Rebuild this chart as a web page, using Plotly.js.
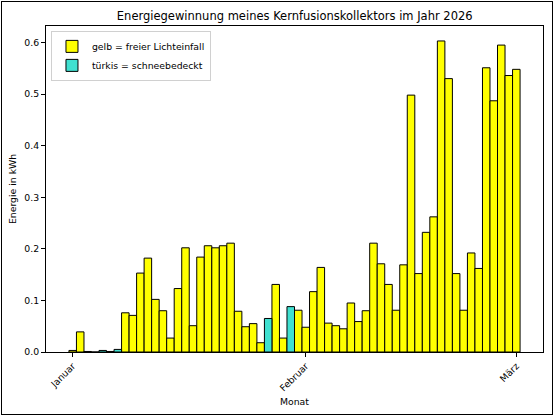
<!DOCTYPE html>
<html>
<head>
<meta charset="utf-8">
<script src="https://cdn.plot.ly/plotly-3.0.1.min.js"></script>
<style>
  html, body { margin: 0; padding: 0; background: #fff; }
  #wrap { position: relative; width: 554px; height: 416px; }
  #chart { width: 554px; height: 416px; }
  #frame { position: absolute; left: 1px; top: 1px; right: 1px; bottom: 1px;
           border: 1px solid #000; pointer-events: none; }
</style>
</head>
<body>
<div id="wrap">
  <div id="chart"></div>
  <div id="frame"></div>
</div>
<script>
// daily energy, 1 Jan .. 1 Mar 2026
const startDate = '2026-01-01';
const energy = [
  0.003, 0.039, 0.001, 0.000, 0.003, 0.001, 0.005, 0.076, 0.071, 0.153,
  0.182, 0.102, 0.080, 0.027, 0.123, 0.202, 0.051, 0.184, 0.206, 0.202,
  0.206, 0.211, 0.079, 0.049, 0.055, 0.018, 0.065, 0.131, 0.027, 0.088,
  0.081, 0.048, 0.117, 0.164, 0.056, 0.051, 0.045, 0.095, 0.059, 0.080,
  0.211, 0.171, 0.131, 0.081, 0.169, 0.498, 0.152, 0.232, 0.262, 0.603,
  0.530, 0.152, 0.081, 0.192, 0.162, 0.551, 0.487, 0.595, 0.536, 0.548
];
// days (index into energy) where the collector was covered in snow
const snowDays = [4, 6, 26, 29];

const tickDates  = ['2026-01-01', '2026-02-01', '2026-03-01'];
const tickLabels = ['Januar', 'Februar', 'März'];

// ── Helpers ──────────────────────────────────────────────────────────────────
function dayStr(i) {
  const d = new Date(startDate + 'T00:00:00Z');
  d.setUTCDate(d.getUTCDate() + i);
  return d.toISOString().slice(0, 10);
}
const dates = energy.map((_, i) => dayStr(i));
const DAY = 86400000;

const sunY  = energy.map((v, i) => snowDays.includes(i) ? null : v);
const snowY = energy.map((v, i) => snowDays.includes(i) ? v : null);

const edge = { color: '#000', width: 1 };

const traces = [
  { type: 'bar', x: dates, y: sunY, width: DAY,
    name: 'gelb = freier Lichteinfall',
    marker: { color: '#ffff00', line: edge } },
  { type: 'bar', x: dates, y: snowY, width: DAY,
    name: 'türkis = schneebedeckt',
    marker: { color: '#40e0d0', line: edge } },
];

const font = 'DejaVu Sans, sans-serif';

const layout = {
  width: 554, height: 416,
  margin: { l: 46, r: 10.5, t: 26, b: 64 },
  paper_bgcolor: 'white', plot_bgcolor: 'white',
  barmode: 'overlay', bargap: 0,
  font: { family: font, size: 9.3, color: '#000' },
  title: { text: 'Energiegewinnung meines Kernfusionskollektors im Jahr 2026',
           font: { size: 11.5, color: '#000' }, x: 0.532, xanchor: 'center',
           y: 0.962, yanchor: 'middle' },
  xaxis: {
    type: 'date',
    range: ['2025-12-28 10:48', '2026-03-04 13:12'],
    tickmode: 'array', tickvals: tickDates, ticktext: tickLabels,
    tickangle: -45, ticks: 'outside', ticklen: 4, tickcolor: '#000',
    showline: true, linecolor: '#000', linewidth: 1, mirror: true,
    showgrid: false, zeroline: false,
    title: { text: 'Monat', font: { size: 9.3 }, standoff: 6 },
  },
  yaxis: {
    range: [0, 0.632],
    tickmode: 'array', tickvals: [0, 0.1, 0.2, 0.3, 0.4, 0.5, 0.6],
    tickformat: '.1f',
    ticks: 'outside', ticklen: 4, tickcolor: '#000',
    showline: true, linecolor: '#000', linewidth: 1, mirror: true,
    showgrid: false, zeroline: false,
    title: { text: 'Energie in kWh', font: { size: 9.3 }, standoff: 6 },
  },
  legend: {
    x: 0.01, y: 0.985, xanchor: 'left', yanchor: 'top',
    bgcolor: 'rgba(255,255,255,0.8)', bordercolor: '#d0d0d0', borderwidth: 1,
    font: { size: 9.3 }, traceorder: 'normal', itemwidth: 30,
  },
  showlegend: true,
};

Plotly.newPlot('chart', traces, layout, { displayModeBar: false, staticPlot: true });
</script>
</body>
</html>
